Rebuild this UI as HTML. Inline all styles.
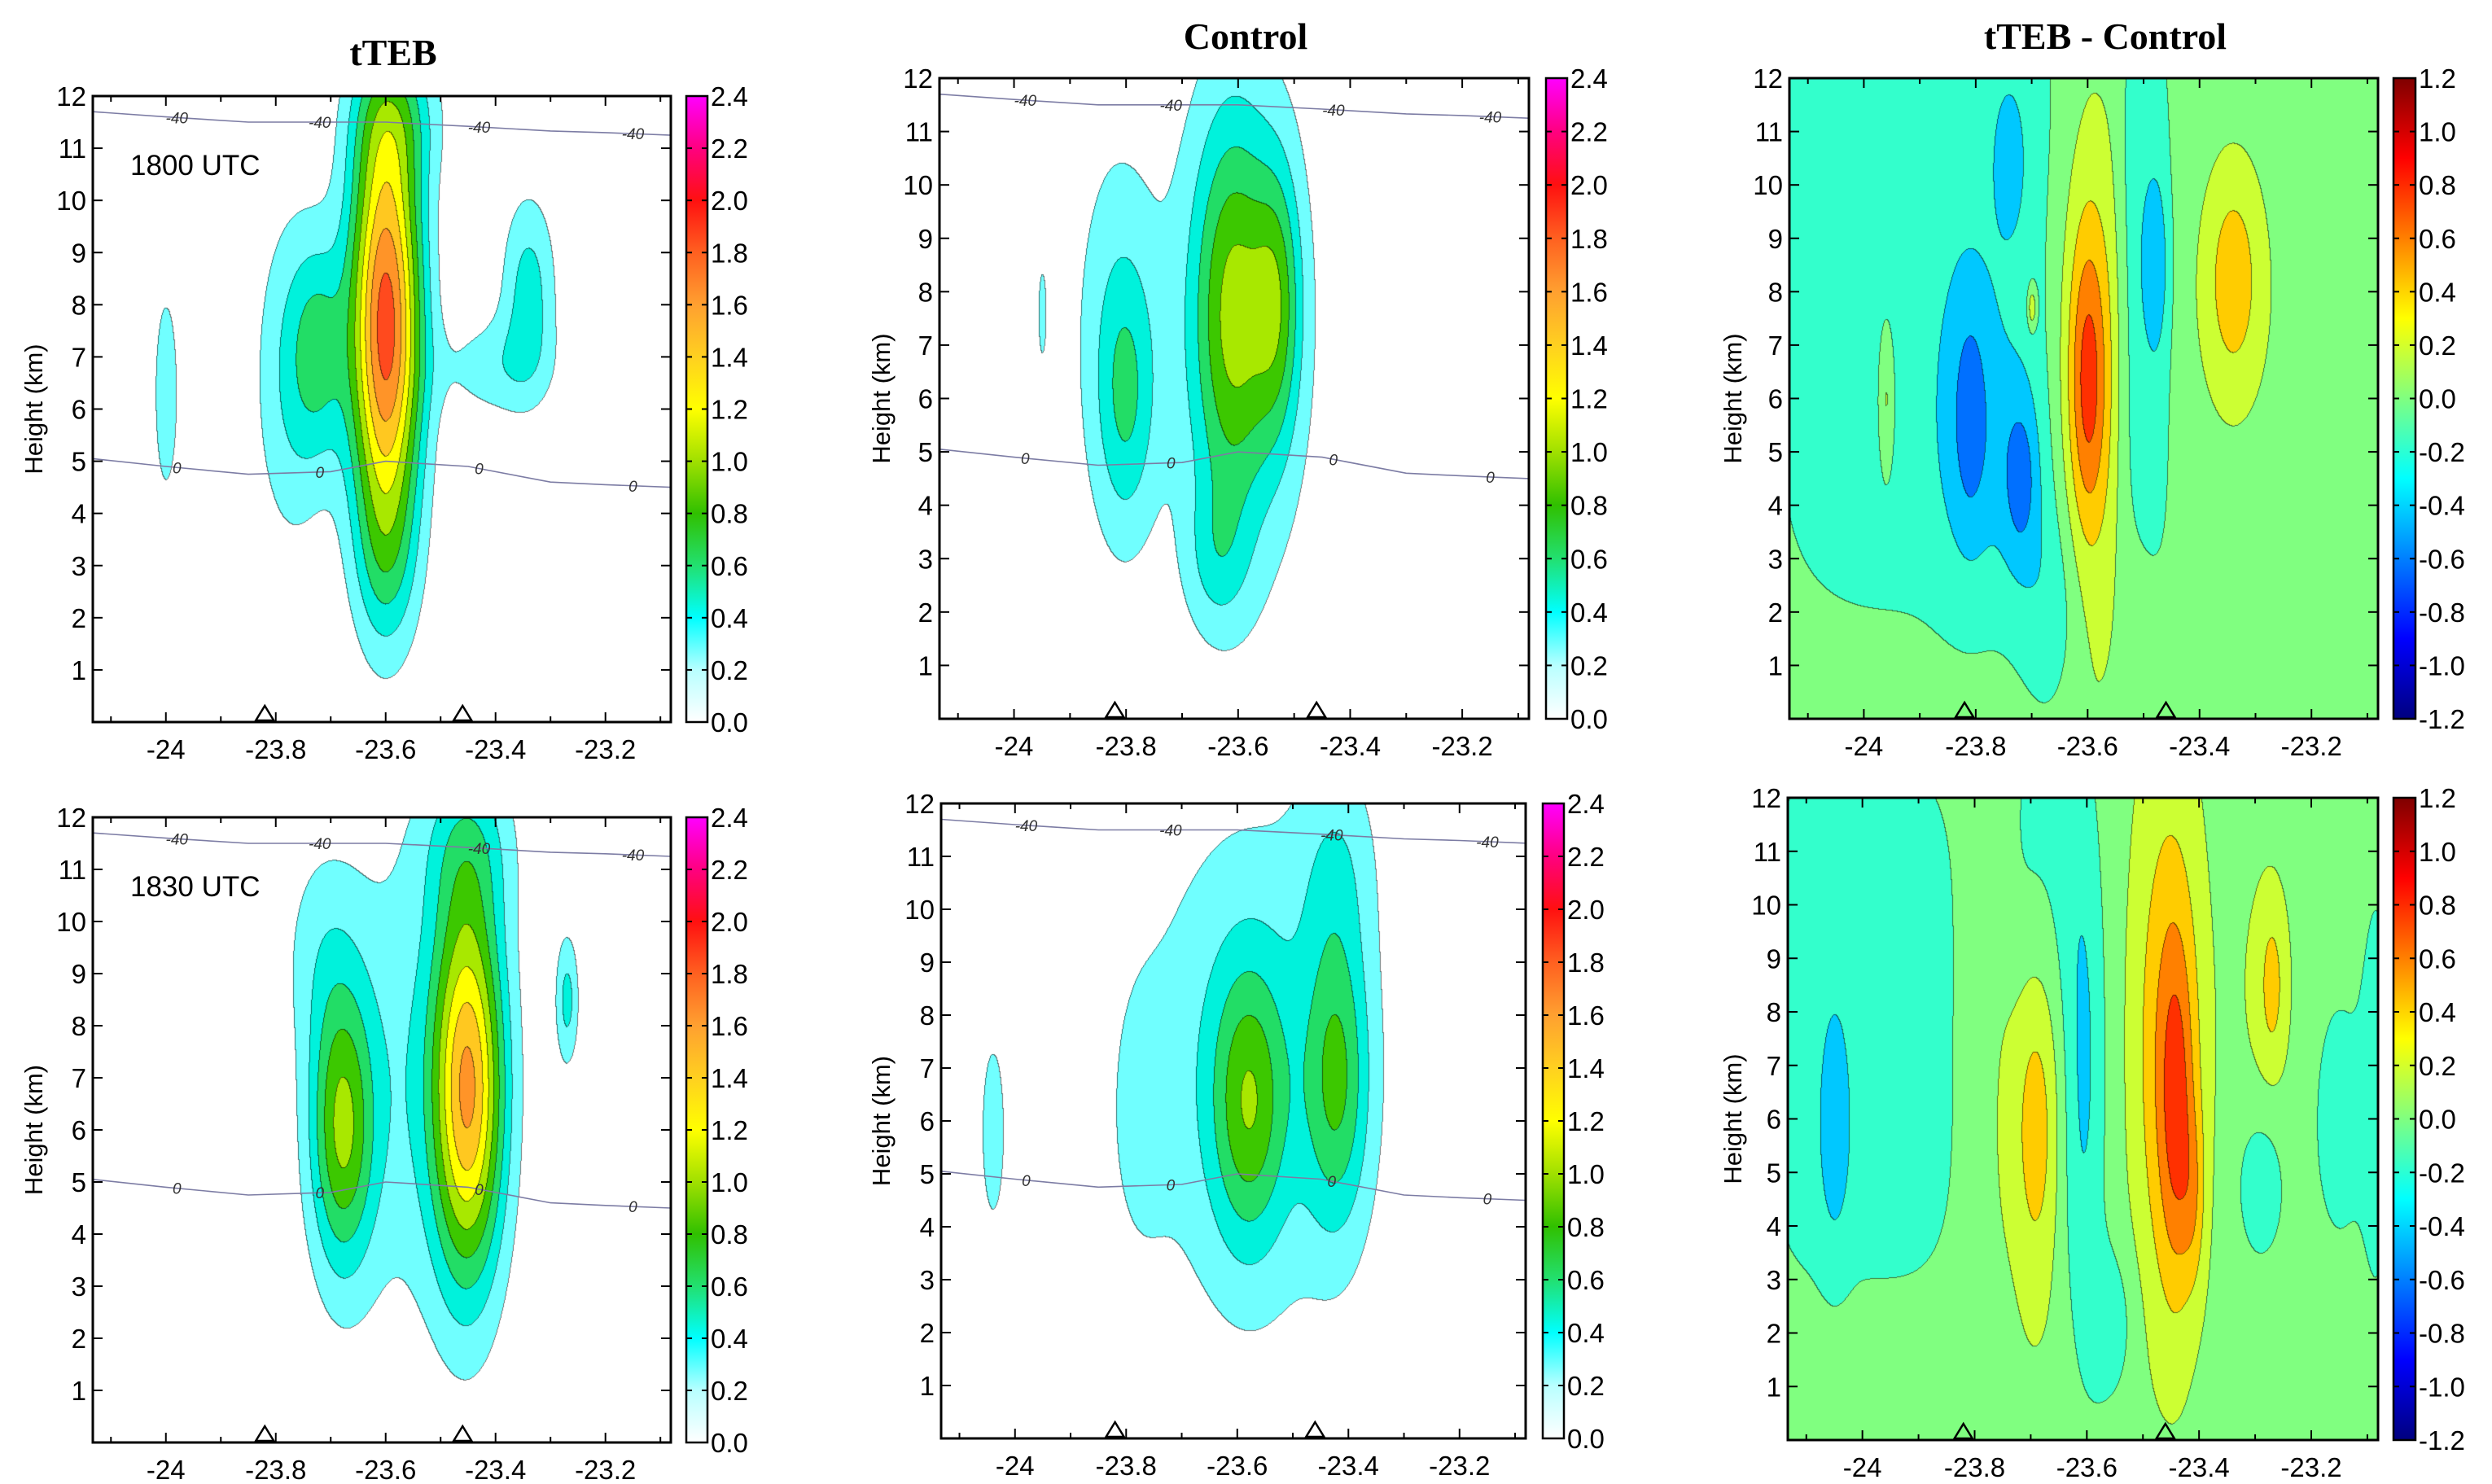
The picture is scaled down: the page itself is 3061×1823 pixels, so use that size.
<!DOCTYPE html>
<html><head><meta charset="utf-8">
<style>
html,body{margin:0;padding:0;background:#fff;}
#root{position:relative;width:3061px;height:1823px;overflow:hidden;background:#fff;}
canvas{position:absolute;}
svg{position:absolute;left:0;top:0;}
</style></head>
<body>
<div id="root">
<svg id="ov" width="3061" height="1823"></svg>
</div>
<script>
// ---------- data ----------
const xTicks = [-24, -23.8, -23.6, -23.4, -23.2];
const xTickLabels = ['-24', '-23.8', '-23.6', '-23.4', '-23.2'];
const yTicks = [1,2,3,4,5,6,7,8,9,10,11,12];
const cbTicksAbs = [0.0,0.2,0.4,0.6,0.8,1.0,1.2,1.4,1.6,1.8,2.0,2.2,2.4];
const cbTicksDiff = [-1.2,-1.0,-0.8,-0.6,-0.4,-0.2,0.0,0.2,0.4,0.6,0.8,1.0,1.2];
const stationLons = [-23.82, -23.46];
// temperature contour lines (lon, height km)
const isoLons = [-24.133, -24.0, -23.85, -23.7, -23.6, -23.45, -23.3, -23.2, -23.081];
const zeroIsoH = [5.05, 4.9, 4.75, 4.8, 5.0, 4.9, 4.6, 4.55, 4.5];
const m40IsoH = [11.7, 11.6, 11.5, 11.5, 11.5, 11.42, 11.33, 11.3, 11.25];
const isoLabelLons = [-23.98, -23.72, -23.43, -23.15];
// blobs: [lon, heightKm, amplitude, lonWidth, heightWidth, power]
const blobsP1 = [
  [-23.60, 7.6, 1.9, 0.046, 3.0, 2],
  [-23.72, 7.2, 0.45, 0.035, 1.4, 2],
  [-23.77, 6.6, 0.4, 0.05, 2.3, 2],
  [-24.00, 6.3, 0.34, 0.018, 1.6, 2],
  [-23.34, 8.3, 0.48, 0.035, 1.3, 2],
  [-23.40, 6.8, 0.3, 0.07, 0.7, 2],
  [-23.58, 11.6, 0.35, 0.06, 1.0, 2],
  [-23.60, 3.0, 0.25, 0.04, 1.2, 2]
];
const blobsP2 = [
  [-23.61, 7.6, 0.78, 0.05, 2.6, 2],
  [-23.53, 7.8, 0.58, 0.03, 1.8, 2],
  [-23.59, 7.2, 0.32, 0.1, 4.0, 2],
  [-23.80, 6.0, 0.38, 0.035, 1.7, 2],
  [-23.82, 7.2, 0.3, 0.06, 3.0, 2],
  [-23.95, 7.6, 0.3, 0.006, 0.7, 2],
  [-23.64, 3.0, 0.28, 0.04, 1.0, 2]
];
const blobsP4 = [
  [-23.45, 6.8, 1.45, 0.045, 2.6, 2],
  [-23.68, 6.0, 0.88, 0.04, 1.9, 2],
  [-23.56, 7.0, 0.33, 0.12, 3.5, 2],
  [-23.27, 8.5, 0.45, 0.015, 0.9, 2],
  [-23.45, 11.5, 0.35, 0.06, 1.2, 2],
  [-23.72, 9.5, 0.2, 0.05, 1.5, 2]
];
const blobsP5 = [
  [-23.58, 6.3, 0.62, 0.045, 1.8, 2],
  [-23.42, 6.8, 0.62, 0.04, 2.0, 2],
  [-23.57, 7.0, 0.42, 0.15, 3.6, 2],
  [-24.04, 5.8, 0.3, 0.02, 1.6, 2],
  [-23.78, 6.0, 0.15, 0.04, 2.0, 2],
  [-23.42, 11.0, 0.25, 0.05, 1.5, 2]
];
const blobsP3 = [
  [-23.86, 8.0, -0.2, 0.27, 5.5, 4],
  [-23.50, 8.0, -0.2, 0.04, 4.5, 4],
  [-23.66, 2.0, -0.2, 0.04, 1.5, 2],
  [-23.81, 5.6, -0.2, 0.02, 1.4, 2],
  [-23.81, 5.6, -0.25, 0.045, 2.2, 2],
  [-23.72, 4.5, -0.2, 0.016, 0.8, 2],
  [-23.72, 4.5, -0.25, 0.03, 1.5, 2],
  [-23.74, 10.5, -0.25, 0.02, 1.0, 2],
  [-23.48, 8.5, -0.25, 0.02, 1.2, 2],
  [-23.60, 6.3, 0.45, 0.022, 1.8, 2],
  [-23.60, 6.5, 0.3, 0.04, 3.2, 2],
  [-23.59, 7.0, 0.2, 0.05, 5.0, 2],
  [-23.34, 8.3, 0.25, 0.03, 1.3, 2],
  [-23.34, 8.0, 0.2, 0.05, 1.8, 2],
  [-23.70, 7.7, 0.4, 0.006, 0.3, 2],
  [-23.96, 6.0, 0.3, 0.01, 1.0, 2]
];
const blobsP6 = [
  [-24.00, 7.8, -0.2, 0.15, 4.4, 4],
  [-23.67, 8.0, -0.2, 0.06, 4.6, 4],
  [-24.05, 5.8, -0.25, 0.02, 1.6, 2],
  [-23.60, 7.0, -0.28, 0.025, 3.5, 2],
  [-23.69, 5.8, 0.4, 0.03, 2.2, 2],
  [-23.70, 6.0, 0.2, 0.05, 2.8, 2],
  [-23.44, 6.0, 0.35, 0.02, 2.2, 2],
  [-23.45, 7.0, 0.35, 0.04, 3.0, 2],
  [-23.46, 8.0, 0.2, 0.05, 5.0, 2],
  [-23.27, 8.5, 0.25, 0.015, 1.0, 2],
  [-23.28, 8.5, 0.15, 0.04, 2.0, 2],
  [-23.15, 6.0, -0.25, 0.03, 1.5, 2],
  [-23.085, 6.5, -0.25, 0.02, 2.5, 2],
  [-23.29, 4.8, -0.25, 0.03, 1.0, 2],
  [-23.56, 2.2, -0.25, 0.03, 1.0, 2],
  [-23.41, 4.5, 0.25, 0.015, 1.2, 2]
];
const absLevels = [0.2,0.4,0.6,0.8,1.0,1.2,1.4,1.6,1.8,2.0,2.2];
const absColors = ['#ffffff','#70ffff','#00f2dc','#22dd66','#3cc800','#a8e800','#ffff00','#ffc820','#ff9428','#ff4a1e','#ff0a30','#ff00c0'];
const diffLevels = [-0.8,-0.6,-0.4,-0.2,0.0,0.2,0.4,0.6,0.8,1.0];
const diffColors = ['#0000a0','#0000ff','#0070ff','#00c8ff','#33ffcc','#80ff80','#ccff33','#ffcc00','#ff8000','#ff3000','#b00000'];

const X0 = -24.133, X1 = -23.081;
const panels = [
 {id:'tteb-1800', L:114,R:824,T:118,B:887, cb:[843,869,118,887], blobs:blobsP1, kind:'abs', base:0, iso:true, time:'1800 UTC', ylab:52},
 {id:'control-1800', L:1154,R:1878,T:96,B:883, cb:[1899,1925,96,883], blobs:blobsP2, kind:'abs', base:0, iso:true, ylab:1093},
 {id:'diff-1800', L:2198,R:2921,T:96,B:883, cb:[2940,2967,96,883], blobs:blobsP3, kind:'diff', base:0.1, iso:false, ylab:2139},
 {id:'tteb-1830', L:114,R:824,T:1004,B:1772, cb:[843,869,1004,1772], blobs:blobsP4, kind:'abs', base:0, iso:true, time:'1830 UTC', ylab:52},
 {id:'control-1830', L:1156,R:1874,T:987,B:1767, cb:[1895,1921,987,1767], blobs:blobsP5, kind:'abs', base:0, iso:true, ylab:1093},
 {id:'diff-1830', L:2196,R:2921,T:980,B:1769, cb:[2940,2967,980,1769], blobs:blobsP6, kind:'diff', base:0.1, iso:false, ylab:2139}
];

// ---------- helpers ----------
const NS='http://www.w3.org/2000/svg';
const ov=document.getElementById('ov');
function mk(tag, attrs, parent){const e=document.createElementNS(NS,tag);for(const k in attrs)e.setAttribute(k,attrs[k]);(parent||ov).appendChild(e);return e;}
function hex(c){return [parseInt(c.slice(1,3),16),parseInt(c.slice(3,5),16),parseInt(c.slice(5,7),16)];}
function fieldVal(blobs, base, lon, h){
  let v=base;
  for(const b of blobs){
    const dx=Math.abs((lon-b[0])/b[3]), dy=Math.abs((h-b[1])/b[4]);
    const p=b[5];
    const e=p===2?(dx*dx+dy*dy):(Math.pow(dx,p)+Math.pow(dy,p));
    if(e<40) v+=b[2]*Math.exp(-0.5*e);
  }
  return v;
}
function levelIdx(levels,v){let i=0;while(i<levels.length&&v>=levels[i])i++;return i;}

// titles
[['tTEB',483,'title-tteb'],['Control',1530,'title-control'],['tTEB - Control',2586,'title-difference']].forEach((t,i)=>{
  const e=mk('text',{x:t[1],y:i===0?80:60,'text-anchor':'middle','font-family':'Liberation Serif, serif','font-weight':'bold','font-size':46});
  e.textContent=t[0];
  
  
});

const root=document.getElementById('root');
panels.forEach(P=>{
  const W=P.R-P.L, H=P.B-P.T;
  const xs=lon=>P.L+(lon-X0)/(X1-X0)*W;
  const ys=h=>P.B-h/12*H;
  const cv=document.createElement('canvas');
  cv.width=W; cv.height=H; cv.style.left=P.L+'px'; cv.style.top=P.T+'px';
  
  
  root.insertBefore(cv, ov);
  const ctx=cv.getContext('2d');
  const img=ctx.createImageData(W,H);
  const levels=P.kind==='abs'?absLevels:diffLevels;
  const cols=(P.kind==='abs'?absColors:diffColors).map(hex);
  const idx=new Int8Array(W*H);
  for(let j=0;j<H;j++){
    const h=12*(1-(j+0.5)/H);
    for(let i=0;i<W;i++){
      const lon=X0+(i+0.5)/W*(X1-X0);
      idx[j*W+i]=levelIdx(levels, fieldVal(P.blobs,P.base,lon,h));
    }
  }
  for(let j=0;j<H;j++)for(let i=0;i<W;i++){
    const k=j*W+i; let c=cols[idx[k]];
    let edge=(i>0&&idx[k-1]!==idx[k])||(j>0&&idx[k-W]!==idx[k]);
    const o=k*4;
    if(edge){img.data[o]=c[0]*0.45;img.data[o+1]=c[1]*0.45;img.data[o+2]=c[2]*0.45;}
    else{img.data[o]=c[0];img.data[o+1]=c[1];img.data[o+2]=c[2];}
    img.data[o+3]=255;
  }
  ctx.putImageData(img,0,0);

  const g=mk('g',{});
  
  

  if(P.iso){
    [[zeroIsoH,'0'],[m40IsoH,'-40']].forEach(([arr,lab])=>{
      const pts=isoLons.map((lon,i)=>xs(lon).toFixed(1)+','+ys(arr[i]).toFixed(1)).join(' ');
      const pl=mk('polyline',{points:pts,fill:'none',stroke:'#7c7ca4','stroke-width':1.6},g);
      
      
      isoLabelLons.forEach(ll=>{
        let h=0;for(let i=0;i<isoLons.length-1;i++){if(ll>=isoLons[i]&&ll<=isoLons[i+1]){const f=(ll-isoLons[i])/(isoLons[i+1]-isoLons[i]);h=arr[i]+f*(arr[i+1]-arr[i]);}}
        const t=mk('text',{x:xs(ll),y:ys(h)+7,'text-anchor':'middle','font-family':'Liberation Sans, sans-serif','font-size':19,'font-style':'italic',fill:'#333'},g);
        t.textContent=lab;
        
        
      });
    });
  }
  const fr=mk('rect',{x:P.L,y:P.T,width:W,height:H,fill:'none',stroke:'#000','stroke-width':3},g);
  
  
  for(let v=-24.1;v<=-23.09;v+=0.1){
    const x=xs(v), major=xTicks.some(t=>Math.abs(t-v)<1e-6);
    mk('line',{x1:x,x2:x,y1:P.B,y2:P.B-(major?12:7),stroke:'#000','stroke-width':2},g);
    mk('line',{x1:x,x2:x,y1:P.T,y2:P.T+(major?12:7),stroke:'#000','stroke-width':2},g);
  }
  xTicks.forEach((v,i)=>{
    const t=mk('text',{x:xs(v),y:P.B+45,'text-anchor':'middle','font-family':'Liberation Sans, sans-serif','font-size':33},g);
    t.textContent=xTickLabels[i];
    
    
  });
  yTicks.forEach(v=>{
    const y=ys(v);
    mk('line',{x1:P.L,x2:P.L+12,y1:y,y2:y,stroke:'#000','stroke-width':2},g);
    mk('line',{x1:P.R,x2:P.R-12,y1:y,y2:y,stroke:'#000','stroke-width':2},g);
    const t=mk('text',{x:P.L-8,y:y+12,'text-anchor':'end','font-family':'Liberation Sans, sans-serif','font-size':33},g);
    t.textContent=String(v);
    
    
  });
  const yl=mk('text',{x:P.ylab,y:(P.T+P.B)/2,'text-anchor':'middle','font-family':'Liberation Sans, sans-serif','font-size':31,transform:`rotate(-90 ${P.ylab} ${(P.T+P.B)/2})`},g);
  yl.textContent='Height (km)';
  
  
  stationLons.forEach(s=>{
    const x=xs(s);
    const tr=mk('polygon',{points:`${x-11},${P.B-2} ${x+11},${P.B-2} ${x},${P.B-20}`,fill:'none',stroke:'#000','stroke-width':2.5},g);
    
    
  });
  if(P.time){
    const t=mk('text',{x:P.L+46,y:P.T+97,'font-family':'Liberation Sans, sans-serif','font-size':35},g);
    t.textContent=P.time;
    
    
  }
  const [cl,cr,ct,cb]=P.cb;
  const gid='grad-'+P.id;
  const defs=mk('defs',{},g);
  const lg=mk('linearGradient',{id:gid,x1:0,y1:1,x2:0,y2:0},defs);
  const stops=P.kind==='abs'?
    [[0,'#ffffff'],[0.0833,'#b8ffff'],[0.1667,'#00ffff'],[0.25,'#22e070'],[0.3333,'#30c000'],[0.4167,'#a0e000'],[0.5,'#ffff00'],[0.5833,'#ffd020'],[0.6667,'#ffa030'],[0.75,'#ff6020'],[0.8333,'#ff1010'],[0.9167,'#ff0080'],[1,'#ff00ff']]:
    [[0,'#00007f'],[0.125,'#0000ff'],[0.375,'#00ffff'],[0.5,'#80ff80'],[0.625,'#ffff00'],[0.875,'#ff0000'],[1,'#7f0000']];
  stops.forEach(s=>mk('stop',{offset:s[0],'stop-color':s[1]},lg));
  const cbr=mk('rect',{x:cl,y:ct,width:cr-cl,height:cb-ct,fill:`url(#${gid})`,stroke:'#000','stroke-width':2.5},g);
  
  
  const ticks=P.kind==='abs'?cbTicksAbs:cbTicksDiff;
  const lo=ticks[0], hi=ticks[ticks.length-1];
  ticks.forEach(v=>{
    const y=cb-(v-lo)/(hi-lo)*(cb-ct);
    mk('line',{x1:cr-7,x2:cr,y1:y,y2:y,stroke:'#000','stroke-width':2},g);
    mk('line',{x1:cl,x2:cl+7,y1:y,y2:y,stroke:'#000','stroke-width':2},g);
    const t=mk('text',{x:cr+4,y:y+12,'font-family':'Liberation Sans, sans-serif','font-size':33},g);
    t.textContent=v.toFixed(1);
    
    
  });
});
</script>
</body></html>
